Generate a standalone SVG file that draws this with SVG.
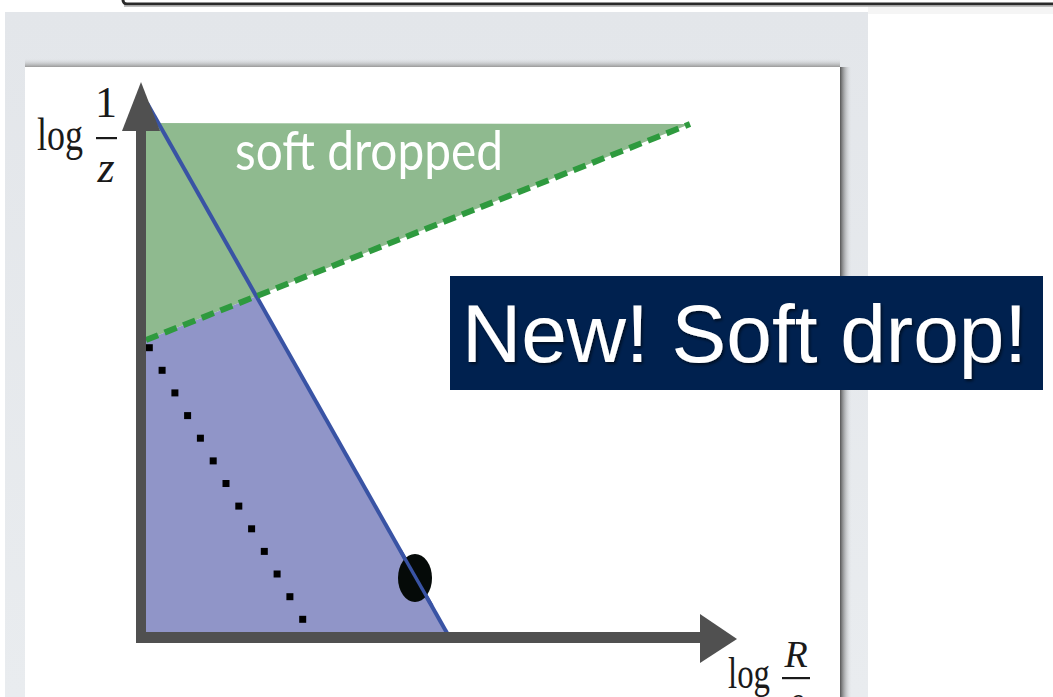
<svg xmlns="http://www.w3.org/2000/svg" width="1053" height="697" viewBox="0 0 1053 697">
<defs>
<style>
.axis{fill:#505050}
.math{font-family:"Liberation Serif","DejaVu Serif",serif;fill:#1a1a1a}
.dot{fill:#000}
</style>
<linearGradient id="panelG" x1="0" y1="0" x2="0" y2="1">
<stop offset="0" stop-color="#e3e6ea"/>
<stop offset="1" stop-color="#e9ecef"/>
</linearGradient>
<linearGradient id="shR" x1="0" y1="0" x2="1" y2="0">
<stop offset="0" stop-color="#555"/>
<stop offset="1" stop-color="#e6e9ec" stop-opacity="0"/>
</linearGradient>
<linearGradient id="shT" x1="0" y1="1" x2="0" y2="0">
<stop offset="0" stop-color="#999"/>
<stop offset="1" stop-color="#e4e7ea" stop-opacity="0"/>
</linearGradient>
<filter id="tsh" x="-5%" y="-20%" width="110%" height="140%">
<feDropShadow dx="1.5" dy="2" stdDeviation="1.5" flood-color="#000" flood-opacity="0.6"/>
</filter>
</defs>

<g id="background">
<rect x="0" y="0" width="1053" height="697" fill="#fff"/>
<rect x="868" y="6" width="185" height="8" fill="#f5f5f5"/>
<rect x="123" y="-20" width="960" height="24" rx="4" fill="none" stroke="#2a2a2a" stroke-width="3"/>
<line x1="124" y1="6" x2="1053" y2="6" stroke="#aaa" stroke-width="1.5"/>
<rect x="5" y="12" width="863" height="685" fill="url(#panelG)"/>
<rect x="25" y="58" width="815" height="9" fill="url(#shT)"/>
<rect x="840" y="67" width="12" height="630" fill="url(#shR)"/>
<rect x="25" y="67" width="815" height="630" fill="#fff"/>
</g>

<g id="soft-dropped-region">
<polygon points="146,123 690,124 146,340" fill="#8fba8f"/>
<text x="235" y="170" font-family="Lato,'Open Sans',sans-serif" font-size="54" fill="#fff" textLength="268" lengthAdjust="spacingAndGlyphs">soft dropped</text>
</g>

<g id="groomed-region">
<polygon points="146,340 256.4,296.2 447,633 146,633" fill="#9095c8"/>
</g>

<g id="connectors">
<line id="blue-line" x1="147" y1="103" x2="447" y2="633" stroke="#3953a4" stroke-width="4"/>
<line id="soft-drop-line" x1="146" y1="340" x2="690" y2="124" stroke="#2e9a3e" stroke-width="6" stroke-dasharray="13 7"/>
<g id="dotted-line">
<rect class="dot" x="145.8" y="344.2" width="7" height="7"/>
<rect class="dot" x="158.6" y="366.8" width="7" height="7"/>
<rect class="dot" x="171.4" y="389.4" width="7" height="7"/>
<rect class="dot" x="184.1" y="412.1" width="7" height="7"/>
<rect class="dot" x="196.9" y="434.7" width="7" height="7"/>
<rect class="dot" x="209.7" y="457.4" width="7" height="7"/>
<rect class="dot" x="222.5" y="480.0" width="7" height="7"/>
<rect class="dot" x="235.3" y="502.6" width="7" height="7"/>
<rect class="dot" x="248.1" y="525.3" width="7" height="7"/>
<rect class="dot" x="260.8" y="547.9" width="7" height="7"/>
<rect class="dot" x="273.6" y="570.5" width="7" height="7"/>
<rect class="dot" x="286.4" y="593.2" width="7" height="7"/>
<rect class="dot" x="299.2" y="615.8" width="7" height="7"/>
</g>
</g>

<g id="axes">
<rect class="axis" x="136" y="128" width="10" height="515"/>
<polygon class="axis" points="141,82 122,131 160,131"/>
<rect class="axis" x="136" y="632" width="566" height="11"/>
<polygon class="axis" points="737,639 700,614 700,663"/>
</g>

<g id="point">
<ellipse cx="415" cy="578" rx="17" ry="24" fill="#050a08"/>
<line x1="400" y1="550" x2="432" y2="606" stroke="#3953a4" stroke-width="3.5"/>
</g>

<g id="y-label">
<text class="math" x="37" y="150" font-size="46" textLength="46" lengthAdjust="spacingAndGlyphs">log</text>
<text class="math" x="106" y="117" font-size="44" text-anchor="middle">1</text>
<rect x="96" y="137" width="21" height="2.2" fill="#1a1a1a"/>
<text class="math" x="106" y="182" font-size="44" font-style="italic" text-anchor="middle">z</text>
</g>

<g id="x-label">
<text class="math" x="728" y="688" font-size="44" textLength="42" lengthAdjust="spacingAndGlyphs">log</text>
<text class="math" x="796" y="667" font-size="38" font-style="italic" text-anchor="middle">R</text>
<rect x="782" y="677" width="28" height="2.2" fill="#1a1a1a"/>
<text class="math" x="796" y="722" font-size="38" font-style="italic" text-anchor="middle">θ</text>
</g>

<g id="new-soft-drop">
<rect x="450" y="276" width="593" height="114" fill="#00214f"/>
<text x="462" y="362" font-family="'Liberation Sans',Arial,sans-serif" font-size="82" fill="#fff" filter="url(#tsh)">New! Soft drop!</text>
</g>
</svg>
